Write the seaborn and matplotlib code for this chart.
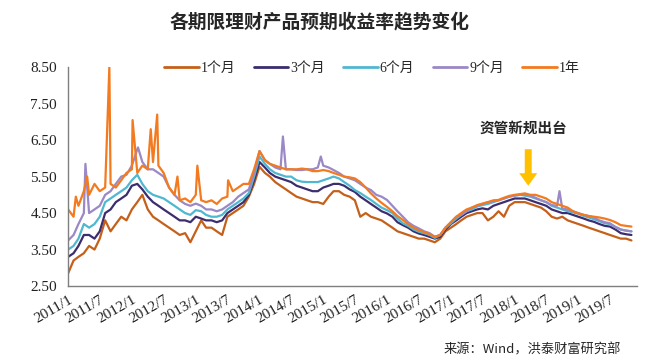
import pandas as pd
import matplotlib.pyplot as plt
import matplotlib.dates as mdates
import seaborn as sns

# monthly readings, 2011/1 .. 2019/11
dates = pd.date_range('2011-01-01', periods=107, freq='MS')

m1 = [2.85, 3.2, 3.3, 3.4, 3.6, 3.5, 3.8, 4.3, 4.0, 4.2, 4.4, 4.3,
      4.6, 4.8, 5.0, 4.6, 4.4, 4.3, 4.2, 4.1, 4.0, 3.9, 3.95, 3.7,
      4.0, 4.3, 4.1, 4.1, 4.0, 3.9, 4.4, 4.5, 4.6, 4.7, 4.95, 5.3,
      5.77, 5.6, 5.5, 5.35, 5.25, 5.15, 5.05, 4.95, 4.9, 4.85, 4.8, 4.8,
      4.75, 4.95, 5.1, 5.1, 5.0, 4.95, 4.85, 4.4, 4.5, 4.4, 4.35, 4.3,
      4.2, 4.1, 4.0, 3.95, 3.9, 3.85, 3.8, 3.8, 3.75, 3.7, 3.8, 4.0,
      4.1, 4.2, 4.3, 4.4, 4.45, 4.5, 4.5, 4.3, 4.4, 4.55, 4.4, 4.7,
      4.8, 4.8, 4.8, 4.75, 4.7, 4.65, 4.55, 4.4, 4.35, 4.4, 4.3, 4.25,
      4.2, 4.15, 4.1, 4.05, 4.0, 3.95, 3.9, 3.85, 3.8, 3.8, 3.75]

m3 = [3.3, 3.4, 3.6, 3.9, 3.9, 3.8, 4.0, 4.5, 4.6, 4.8, 4.9, 5.0,
      5.25, 5.3, 5.15, 4.95, 4.8, 4.7, 4.6, 4.5, 4.4, 4.3, 4.3, 4.25,
      4.4, 4.35, 4.3, 4.3, 4.25, 4.3, 4.5, 4.6, 4.7, 4.8, 5.0, 5.4,
      5.9, 5.75, 5.6, 5.5, 5.45, 5.4, 5.35, 5.25, 5.2, 5.15, 5.1, 5.1,
      5.2, 5.25, 5.3, 5.3, 5.25, 5.15, 5.08, 4.95, 4.85, 4.75, 4.65, 4.55,
      4.49, 4.4, 4.25, 4.17, 4.1, 4.0, 3.94, 3.9, 3.85, 3.8, 3.85, 4.05,
      4.2, 4.3, 4.4, 4.5, 4.55, 4.6, 4.63, 4.6, 4.7, 4.75, 4.8, 4.85,
      4.9, 4.9, 4.9, 4.85, 4.8, 4.75, 4.7, 4.6, 4.55, 4.5, 4.5, 4.45,
      4.4, 4.35, 4.3, 4.26, 4.2, 4.15, 4.13, 4.05, 3.95, 3.92, 3.9]

m6 = [3.5, 3.6, 3.8, 4.2, 4.1, 4.2, 4.4, 4.8, 4.9, 5.0, 5.1, 5.2,
      5.4, 5.55, 5.3, 5.1, 5.0, 4.95, 4.9, 4.8, 4.7, 4.6, 4.5, 4.45,
      4.58, 4.55, 4.45, 4.4, 4.4, 4.45, 4.6, 4.7, 4.8, 4.9, 5.05, 5.5,
      6.05, 5.85, 5.7, 5.6, 5.55, 5.5, 5.5, 5.4, 5.36, 5.35, 5.35, 5.35,
      5.4, 5.45, 5.5, 5.45, 5.35, 5.25, 5.13, 5.05, 4.95, 4.86, 4.75, 4.65,
      4.58, 4.5, 4.35, 4.22, 4.15, 4.05, 3.99, 3.95, 3.9, 3.82, 3.9, 4.1,
      4.22, 4.35, 4.45, 4.55, 4.6, 4.68, 4.72, 4.75, 4.8, 4.85, 4.9, 4.95,
      4.98, 5.0, 4.98, 4.95, 4.9, 4.85, 4.8, 4.7, 4.65, 4.6, 4.55, 4.52,
      4.48, 4.42, 4.38, 4.33, 4.28, 4.22, 4.2, 4.12, 4.05, 4.02, 4.0]

m9 = [3.75, 3.9, 4.2, 4.5, 4.5, 4.6, 4.7, 5.0, 5.1, 5.3, 5.5, 5.55,
      5.8, 6.25, 5.9, 5.7, 5.7, 5.6, 5.5, 5.2, 5.0, 4.85, 4.75, 4.7,
      4.76, 4.7, 4.6, 4.6, 4.55, 4.6, 4.7, 4.8, 4.95, 5.05, 5.15, 5.6,
      6.2, 5.95, 5.85, 5.75, 5.7, 5.7, 5.7, 5.68, 5.68, 5.7, 5.7, 5.75,
      5.8, 5.75, 5.68, 5.6, 5.5, 5.45, 5.4, 5.3, 5.2, 5.13, 5.0, 4.95,
      4.86, 4.7, 4.55, 4.4, 4.25, 4.15, 4.08, 4.0, 3.95, 3.85, 3.9, 4.1,
      4.25, 4.4, 4.45, 4.55, 4.65, 4.7, 4.75, 4.8, 4.82, 4.85, 4.9, 4.95,
      4.98, 5.0, 5.0, 4.98, 4.92, 4.85, 4.8, 4.72, 4.7, 4.62, 4.6, 4.55,
      4.5, 4.45, 4.42, 4.38, 4.3, 4.25, 4.22, 4.12, 4.05, 4.02, 4.0]

y1 = [4.6, 4.4, 4.7, 5.1, 5.0, 5.3, 5.1, 5.2, 5.3, 5.2, 5.4, 5.6,
      5.7, 5.6, 5.8, 5.7, 5.9, 5.8, 5.6, 5.2, 5.0, 4.85, 4.9, 4.8,
      5.0, 4.85, 4.8, 4.85, 4.75, 4.9, 4.95, 5.1, 5.2, 5.3, 5.3, 5.7,
      6.2, 5.95, 5.85, 5.8, 5.75, 5.7, 5.7, 5.7, 5.72, 5.7, 5.65, 5.65,
      5.68, 5.65, 5.6, 5.55, 5.5, 5.48, 5.45, 5.35, 5.2, 5.04, 4.9, 4.78,
      4.67, 4.55, 4.42, 4.31, 4.2, 4.1, 4.03, 3.98, 3.92, 3.85, 3.9, 4.1,
      4.25, 4.4, 4.5, 4.6, 4.65, 4.72, 4.76, 4.8, 4.85, 4.86, 4.92, 4.97,
      5.0, 5.02, 5.04, 5.0, 5.0, 4.95, 4.9, 4.8, 4.75, 4.7, 4.65, 4.55,
      4.49, 4.45, 4.42, 4.4, 4.38, 4.35, 4.31, 4.25, 4.17, 4.15, 4.13]

# short weekly spikes
spike_y1_dates = ['2011-02-14', '2011-04-20', '2011-08-25', '2012-01-05', '2012-04-18',
                  '2012-05-25', '2012-09-18', '2013-01-10', '2013-07-05']
spike_y1_vals = [4.95, 5.5, 8.5, 7.05, 6.8, 7.2, 5.5, 5.8, 5.4]
spike_m9_dates = ['2011-04-10', '2012-02-05', '2014-05-15', '2014-12-18', '2018-09-15']
spike_m9_vals = [5.85, 6.3, 6.6, 6.05, 5.1]

labels = ['1个月', '3个月', '6个月', '9个月', '1年']
colors = ['#C5601A', '#3B2D6E', '#4FB8D0', '#9B88C6', '#F37A1F']
tick_labels = ['2011/1', '2011/7', '2012/1', '2012/7', '2013/1', '2013/7', '2014/1', '2014/7',
               '2015/1', '2015/7', '2016/1', '2016/7', '2017/1', '2017/7', '2018/1', '2018/7',
               '2019/1', '2019/7']

frames = []
for lab, vals in zip(labels, [m1, m3, m6, m9, y1]):
    frames.append(pd.DataFrame({'date': dates, 'rate': vals, 'term': lab}))
frames.append(pd.DataFrame({'date': pd.to_datetime(spike_y1_dates), 'rate': spike_y1_vals, 'term': '1年'}))
frames.append(pd.DataFrame({'date': pd.to_datetime(spike_m9_dates), 'rate': spike_m9_vals, 'term': '9个月'}))
df = pd.concat(frames).sort_values(['term', 'date'])

sns.set_style('white')
plt.rcParams['font.family'] = ['Liberation Serif', 'Noto Sans CJK SC']

fig = plt.figure(figsize=(6.49, 3.63), dpi=100)
ax = fig.add_axes([0.105, 0.212, 0.876, 0.603])

sns.lineplot(data=df, x='date', y='rate', hue='term', hue_order=labels,
             palette=dict(zip(labels, colors)), linewidth=1.6, sort=False,
             estimator=None, ax=ax, legend=False)

yt = [2.5, 3.5, 4.5, 5.5, 6.5, 7.5, 8.5]
ax.set_ylim(2.5, 8.5)
ax.set_yticks(yt)
ax.set_yticklabels([f'{v:.2f}' for v in yt], fontsize=11)
ax.set_xlim(pd.Timestamp('2011-01-01'), pd.Timestamp('2019-12-01'))
tick_dates = pd.to_datetime([t.replace('/', '-') + '-01' for t in tick_labels])
ax.set_xticks(mdates.date2num(tick_dates))
ax.set_xticklabels(tick_labels, rotation=30, ha='right', rotation_mode='anchor', fontsize=11)
ax.set_xlabel('')
ax.set_ylabel('')
for s in ['top', 'right']:
    ax.spines[s].set_visible(False)
for s in ['left', 'bottom']:
    ax.spines[s].set_color('#7f7f7f')
    ax.spines[s].set_linewidth(1)
ax.tick_params(axis='y', direction='out', length=4, color='#7f7f7f', pad=4, colors='#222222')
ax.tick_params(axis='x', direction='inout', length=6, color='#7f7f7f', pad=2, colors='#222222')

handles = [plt.Line2D([], [], color=c, linewidth=2) for c in colors]
fig.legend(handles, labels, loc='center', bbox_to_anchor=(0.573, 0.812), ncol=5,
           frameon=False, fontsize=10, handlelength=2.5, handletextpad=0.15,
           columnspacing=1.3)

fig.text(0.493, 0.94, '各期限理财产品预期收益率趋势变化', ha='center', va='center',
         fontsize=13.5, fontweight='bold', family='Noto Sans CJK SC')

ax.annotate('', xy=(pd.Timestamp('2018-03-20'), 5.25), xytext=(pd.Timestamp('2018-03-20'), 6.25),
            arrowprops=dict(facecolor='#FFC000', edgecolor='none', width=5, headwidth=13, headlength=9))
ax.text(pd.Timestamp('2018-02-20'), 6.85, '资管新规出台', ha='center', va='center',
        fontsize=10.5, fontweight='bold', family='Noto Sans CJK SC')

fig.text(0.957, 0.035, '来源：Wind，洪泰财富研究部', ha='right', va='center',
         fontsize=9.5, family='Noto Sans CJK SC')

plt.savefig('out.png', dpi=100)
